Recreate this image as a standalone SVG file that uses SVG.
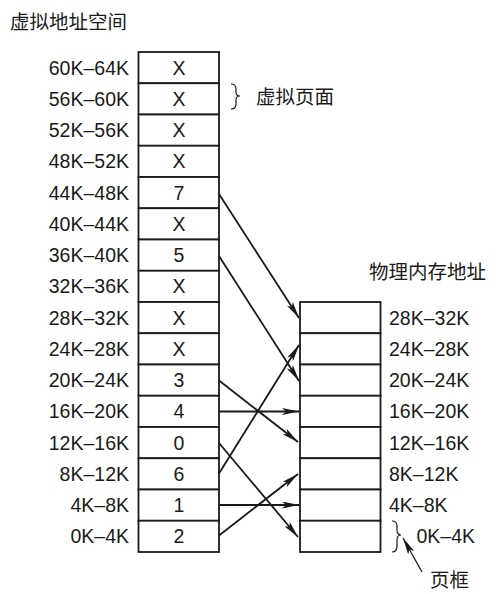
<svg xmlns="http://www.w3.org/2000/svg" width="500" height="594" viewBox="0 0 500 594">
<style>
.bg{fill:#fff}
.cell{fill:#fff;stroke:#1a1a1a;stroke-width:1.8}
.t{font-family:"Liberation Sans",Arial,sans-serif;font-size:19.5px;fill:#1a1a1a}
.v{text-anchor:middle}
.a{text-anchor:end}
.cn{font-family:"Noto Sans CJK SC","Noto Sans",sans-serif;font-size:19.5px;fill:#1a1a1a}
.c{fill:none;stroke:#1a1a1a;stroke-width:1.8}
.br{fill:none;stroke:#1a1a1a;stroke-width:1.2}
</style>
<defs>
<marker id="ah" markerUnits="userSpaceOnUse" markerWidth="17" markerHeight="7" refX="17" refY="3.5" orient="auto">
<path d="M0,0 L17,3.5 L0,7 L4,3.5 z" fill="#1a1a1a"/>
</marker>
</defs>
<rect class="bg" x="0" y="0" width="500" height="594"/>
<text class="cn" x="10" y="29">虚拟地址空间</text>
<text class="cn" x="369" y="279">物理内存地址</text>
<g id="virtual-pages">
<g id="page-15"><rect class="cell" x="138.5" y="52" width="80.5" height="31.25"/><text class="t v" x="179" y="74.6">X</text><text class="t a" x="129" y="74.6">60K–64K</text></g>
<g id="page-14"><rect class="cell" x="138.5" y="83.25" width="80.5" height="31.25"/><text class="t v" x="179" y="105.9">X</text><text class="t a" x="129" y="105.9">56K–60K</text></g>
<g id="page-13"><rect class="cell" x="138.5" y="114.5" width="80.5" height="31.25"/><text class="t v" x="179" y="137.1">X</text><text class="t a" x="129" y="137.1">52K–56K</text></g>
<g id="page-12"><rect class="cell" x="138.5" y="145.75" width="80.5" height="31.25"/><text class="t v" x="179" y="168.4">X</text><text class="t a" x="129" y="168.4">48K–52K</text></g>
<g id="page-11"><rect class="cell" x="138.5" y="177" width="80.5" height="31.25"/><text class="t v" x="179" y="199.6">7</text><text class="t a" x="129" y="199.6">44K–48K</text></g>
<g id="page-10"><rect class="cell" x="138.5" y="208.25" width="80.5" height="31.25"/><text class="t v" x="179" y="230.9">X</text><text class="t a" x="129" y="230.9">40K–44K</text></g>
<g id="page-9"><rect class="cell" x="138.5" y="239.5" width="80.5" height="31.25"/><text class="t v" x="179" y="262.1">5</text><text class="t a" x="129" y="262.1">36K–40K</text></g>
<g id="page-8"><rect class="cell" x="138.5" y="270.75" width="80.5" height="31.25"/><text class="t v" x="179" y="293.4">X</text><text class="t a" x="129" y="293.4">32K–36K</text></g>
<g id="page-7"><rect class="cell" x="138.5" y="302" width="80.5" height="31.25"/><text class="t v" x="179" y="324.6">X</text><text class="t a" x="129" y="324.6">28K–32K</text></g>
<g id="page-6"><rect class="cell" x="138.5" y="333.25" width="80.5" height="31.25"/><text class="t v" x="179" y="355.9">X</text><text class="t a" x="129" y="355.9">24K–28K</text></g>
<g id="page-5"><rect class="cell" x="138.5" y="364.5" width="80.5" height="31.25"/><text class="t v" x="179" y="387.1">3</text><text class="t a" x="129" y="387.1">20K–24K</text></g>
<g id="page-4"><rect class="cell" x="138.5" y="395.75" width="80.5" height="31.25"/><text class="t v" x="179" y="418.4">4</text><text class="t a" x="129" y="418.4">16K–20K</text></g>
<g id="page-3"><rect class="cell" x="138.5" y="427" width="80.5" height="31.25"/><text class="t v" x="179" y="449.6">0</text><text class="t a" x="129" y="449.6">12K–16K</text></g>
<g id="page-2"><rect class="cell" x="138.5" y="458.25" width="80.5" height="31.25"/><text class="t v" x="179" y="480.9">6</text><text class="t a" x="129" y="480.9">8K–12K</text></g>
<g id="page-1"><rect class="cell" x="138.5" y="489.5" width="80.5" height="31.25"/><text class="t v" x="179" y="512.1">1</text><text class="t a" x="129" y="512.1">4K–8K</text></g>
<g id="page-0"><rect class="cell" x="138.5" y="520.75" width="80.5" height="31.25"/><text class="t v" x="179" y="543.4">2</text><text class="t a" x="129" y="543.4">0K–4K</text></g>
</g>
<g id="page-brace-label">
<path class="br" d="M231,84 Q236,84 236,89 L236,92 Q236,96 240,96 Q236,96 236,100 L236,104 Q236,109 231,109"/>
<text class="cn" x="256" y="104">虚拟页面</text>
</g>
<g id="page-frames">
<g id="frame-7"><rect class="cell" x="300" y="302" width="80.5" height="31.25"/><text class="t" x="389" y="324.6">28K–32K</text></g>
<g id="frame-6"><rect class="cell" x="300" y="333.25" width="80.5" height="31.25"/><text class="t" x="389" y="355.9">24K–28K</text></g>
<g id="frame-5"><rect class="cell" x="300" y="364.5" width="80.5" height="31.25"/><text class="t" x="389" y="387.1">20K–24K</text></g>
<g id="frame-4"><rect class="cell" x="300" y="395.75" width="80.5" height="31.25"/><text class="t" x="389" y="418.4">16K–20K</text></g>
<g id="frame-3"><rect class="cell" x="300" y="427" width="80.5" height="31.25"/><text class="t" x="389" y="449.6">12K–16K</text></g>
<g id="frame-2"><rect class="cell" x="300" y="458.25" width="80.5" height="31.25"/><text class="t" x="389" y="480.9">8K–12K</text></g>
<g id="frame-1"><rect class="cell" x="300" y="489.5" width="80.5" height="31.25"/><text class="t" x="389" y="512.1">4K–8K</text></g>
<g id="frame-0"><rect class="cell" x="300" y="520.75" width="80.5" height="31.25"/><text class="t" x="416.5" y="543">0K–4K</text></g>
</g>
<g id="frame-brace-label">
<path class="br" d="M392,521 Q397,521 397,526 L397,530 Q397,535 401,535 Q397,535 397,540 L397,546 Q397,552 392,552"/>
<text class="cn" x="430" y="587">页框</text>
</g>
<g id="connectors">
<path class="c" d="M219,194 L299,318" marker-end="url(#ah)"/>
<path class="c" d="M219,256 L299,381" marker-end="url(#ah)"/>
<path class="c" d="M219,380.5 L298,442" marker-end="url(#ah)"/>
<path class="c" d="M219,411.5 L299,411.5" marker-end="url(#ah)"/>
<path class="c" d="M219,443 L298,537" marker-end="url(#ah)"/>
<path class="c" d="M219,473.5 L299,345" marker-end="url(#ah)"/>
<path class="c" d="M219,505 L299,505" marker-end="url(#ah)"/>
<path class="c" d="M219,535.5 L298,474" marker-end="url(#ah)"/>
<path class="c" d="M422,572 L403,538" marker-end="url(#ah)" style="stroke-width:1.3"/>
</g>
</svg>
